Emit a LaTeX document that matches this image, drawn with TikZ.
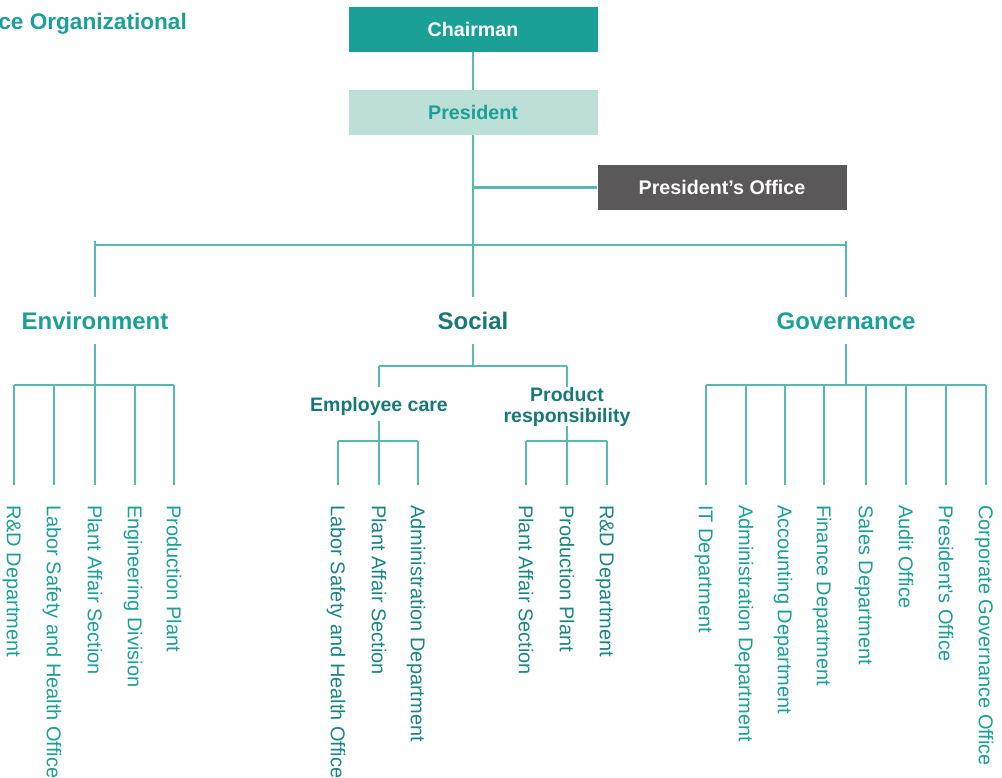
\documentclass[tikz,border=0pt]{standalone}
\usepackage{fontspec}
\setmainfont{Liberation Sans}
\definecolor{esgteal}{RGB}{26,160,150}
\definecolor{socteal}{RGB}{23,120,118}
\definecolor{socleaf}{RGB}{26,134,130}
\definecolor{linkteal}{RGB}{85,186,176}
\definecolor{presfill}{RGB}{188,223,215}
\definecolor{officefill}{RGB}{90,88,89}

\begin{document}
\begin{tikzpicture}[x=1pt,y=1pt]
\tikzstyle{every node}+=[inner sep=0pt]
\tikzstyle{link}=[draw=linkteal,line width=2.2pt]
\tikzstyle{unitlink}=[link,shorten >=20pt]
\tikzstyle{topbox}=[minimum width=249pt,minimum height=45pt,font=\fontsize{19.7}{23}\selectfont\bfseries]
\tikzstyle{pillar}=[text=esgteal,font=\fontsize{24}{28}\selectfont\bfseries,text height=17pt,text depth=0pt,minimum height=47pt]
\tikzstyle{group}=[text=socteal,font=\fontsize{19.5}{20.7}\selectfont\bfseries,align=center]
\tikzstyle{unit}=[rotate=-90,anchor=west,text=esgteal,font=\fontsize{20}{24}\selectfont,text height=14.3pt,text depth=0pt]
\useasboundingbox (0,0) rectangle (1002,-778);

\node [anchor=base east,text=esgteal,font=\fontsize{22.6}{26}\selectfont\bfseries] (title) at (187,-29.5) {ce Organizational};

\node [topbox,fill=esgteal,text=white] (chair) at (473,-29.5) {Chairman};
\node [topbox,fill=presfill,text=esgteal] (pres) at (473,-112.5) {President};
\node [topbox,fill=officefill,text=white] (office) at (722,-187.5) {President’s Office};

\node [pillar] (env) at (95,-320.5) {Environment};
\node [pillar,text=socteal] (soc) at (473,-320.5) {Social};
\node [pillar] (gov) at (846,-320.5) {Governance};

\node [group,text height=14pt,text depth=0pt,minimum height=34pt] (care) at (379,-404) {Employee care};
\node [group,anchor=north] (prod) at (567,-387) {Product\\responsibility};

\node [unit] (e1) at (14,-505) {R\&D Department};
\node [unit] (e2) at (54,-505) {Labor Safety and Health Office};
\node [unit] (e3) at (95,-505) {Plant Affair Section};
\node [unit] (e4) at (135,-505) {Engineering Division};
\node [unit] (e5) at (174,-505) {Production Plant};

\node [unit,text=socleaf] (c1) at (338,-505) {Labor Safety and Health Office};
\node [unit,text=socleaf] (c2) at (379,-505) {Plant Affair Section};
\node [unit,text=socleaf] (c3) at (418,-505) {Administration Department};
\node [unit,text=socleaf] (p1) at (526,-505) {Plant Affair Section};
\node [unit,text=socleaf] (p2) at (567,-505) {Production Plant};
\node [unit,text=socleaf] (p3) at (607,-505) {R\&D Department};

\node [unit] (g1) at (706,-505) {IT Department};
\node [unit] (g2) at (746,-505) {Administration Department};
\node [unit] (g3) at (785,-505) {Accounting Department};
\node [unit] (g4) at (824,-505) {Finance Department};
\node [unit] (g5) at (866,-505) {Sales Department};
\node [unit] (g6) at (906,-505) {Audit Office};
\node [unit] (g7) at (946,-505) {President’s Office};
\node [unit] (g8) at (986,-505) {Corporate Governance Office};

\coordinate (ticktop) at (473,-241);
\coordinate (topbar) at (473,-245);
\coordinate (envbar) at (95,-385);
\coordinate (socbar) at (473,-366);
\coordinate (carebar) at (379,-441);
\coordinate (prodbar) at (567,-441);
\coordinate (govbar) at (846,-385);

\draw [link] (chair) -- (pres);
\draw [link] (pres) -- (soc);
\draw [link] (pres |- office) -- (office);
\draw [link] (env.north |- topbar) -- (gov.north |- topbar);
\draw [link] (env.north |- ticktop) -- (env.north);
\draw [link] (gov.north |- ticktop) -- (gov.north);

\draw [link] (env.south) -- (envbar);
\draw [link] (e1.west |- envbar) -- (e5.west |- envbar);
\draw [unitlink] (e1.west |- envbar) -- (e1.west);
\draw [unitlink] (e2.west |- envbar) -- (e2.west);
\draw [unitlink] (e3.west |- envbar) -- (e3.west);
\draw [unitlink] (e4.west |- envbar) -- (e4.west);
\draw [unitlink] (e5.west |- envbar) -- (e5.west);

\draw [link] (soc.south) -- (socbar);
\draw [link] (care.north |- socbar) -- (prod.north |- socbar);
\draw [link] (care.north |- socbar) -- (care.north);
\draw [link] (prod.north |- socbar) -- (prod.north);
\draw [link] (care.south) -- (carebar);
\draw [link] (c1.west |- carebar) -- (c3.west |- carebar);
\draw [unitlink] (c1.west |- carebar) -- (c1.west);
\draw [unitlink] (c2.west |- carebar) -- (c2.west);
\draw [unitlink] (c3.west |- carebar) -- (c3.west);
\draw [link] (prod.south) -- (prodbar);
\draw [link] (p1.west |- prodbar) -- (p3.west |- prodbar);
\draw [unitlink] (p1.west |- prodbar) -- (p1.west);
\draw [unitlink] (p2.west |- prodbar) -- (p2.west);
\draw [unitlink] (p3.west |- prodbar) -- (p3.west);

\draw [link] (gov.south) -- (govbar);
\draw [link] (g1.west |- govbar) -- (g8.west |- govbar);
\draw [unitlink] (g1.west |- govbar) -- (g1.west);
\draw [unitlink] (g2.west |- govbar) -- (g2.west);
\draw [unitlink] (g3.west |- govbar) -- (g3.west);
\draw [unitlink] (g4.west |- govbar) -- (g4.west);
\draw [unitlink] (g5.west |- govbar) -- (g5.west);
\draw [unitlink] (g6.west |- govbar) -- (g6.west);
\draw [unitlink] (g7.west |- govbar) -- (g7.west);
\draw [unitlink] (g8.west |- govbar) -- (g8.west);
\end{tikzpicture}
\end{document}
